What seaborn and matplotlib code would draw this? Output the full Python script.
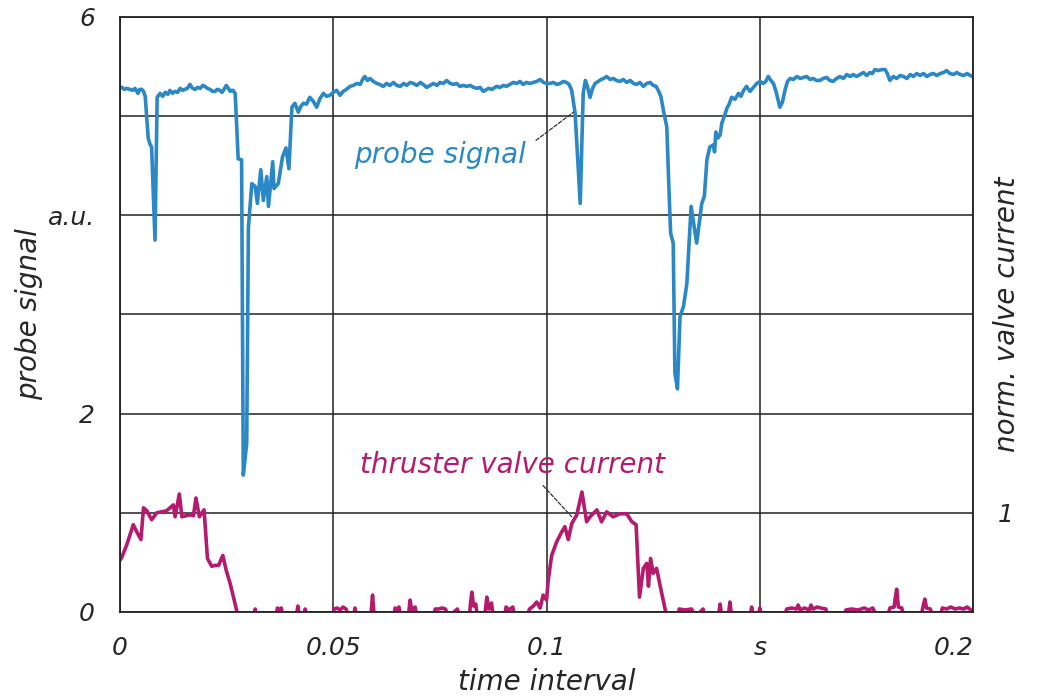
import matplotlib
matplotlib.use("Agg")
import matplotlib.pyplot as plt
import numpy as np
import pandas as pd
import seaborn as sns

# probe signal (time in ms, value in a.u.)
probe_ms = [0.0, 0.4, 1.0, 1.6, 2.3, 3.0, 3.5, 4.2, 4.6, 5.1, 5.5, 5.9, 6.6, 7.0, 7.4, 8.2, 8.7, 9.4, 10.0, 10.6,
            11.2, 11.7, 12.3, 12.9, 13.5, 14.1, 14.7, 15.2, 15.8, 16.4, 17.0, 17.6, 18.2, 18.8, 19.4, 19.9, 20.5,
            21.1, 21.7, 22.3, 22.8, 23.4, 23.9, 24.4, 24.9, 25.4, 25.8, 26.2, 26.5, 27.0, 27.7, 28.5, 28.9, 29.7,
            30.1, 30.9, 31.7, 32.2, 33.0, 33.6, 34.4, 34.8, 35.8, 36.1, 37.1, 38.1, 38.9, 39.6, 40.3, 41.0, 41.8,
            42.4, 43.0, 43.7, 44.5, 45.3, 46.1, 46.9, 47.7, 48.4, 49.2, 50.0, 50.8, 51.6, 52.3, 53.1, 53.9, 54.7,
            55.5, 56.3, 57.0, 57.4, 58.0, 58.6, 59.4, 60.2, 60.9, 61.7, 62.5, 63.3, 64.1, 64.9, 65.7, 66.5, 67.2,
            68.0, 68.8, 69.6, 70.4, 71.1, 71.9, 72.7, 73.5, 74.3, 75.0, 75.8, 76.6, 77.4, 78.2, 78.9, 79.7, 80.5,
            81.3, 82.1, 82.9, 83.7, 84.4, 85.2, 85.6, 86.4, 87.2, 88.3, 89.1, 89.9, 90.6, 91.4, 92.2, 93.0, 93.8,
            94.5, 95.3, 96.1, 96.9, 97.7, 98.5, 99.3, 100.0, 100.8, 101.6, 102.4, 103.2, 103.9, 104.7, 105.3,
            105.9, 106.7, 107.9, 108.6, 109.1, 109.6, 110.2, 110.8, 111.4, 112.1, 112.8, 113.4, 114.1, 114.9,
            115.7, 116.4, 117.2, 118.0, 118.8, 119.6, 120.4, 121.1, 121.9, 122.7, 123.5, 124.3, 125.0, 125.7,
            126.2, 126.8, 127.4, 128.2, 128.8, 129.1, 129.7, 130.1, 130.7, 131.3, 132.1, 132.9, 133.9, 134.4,
            135.2, 136.4, 137.0, 137.6, 138.3, 139.1, 139.4, 139.7, 140.2, 140.7, 141.1, 141.7, 142.3, 142.8,
            143.4, 144.2, 145.0, 145.6, 146.2, 146.9, 147.7, 148.5, 149.3, 150.1, 150.8, 151.4, 152.0, 152.6,
            153.2, 153.8, 154.7, 155.3, 155.9, 156.5, 157.1, 157.9, 158.7, 159.5, 160.2, 161.0, 161.8, 162.5,
            163.3, 164.1, 164.9, 165.7, 166.4, 167.2, 168.0, 168.8, 169.6, 170.4, 171.2, 171.9, 172.7, 173.5,
            174.3, 175.1, 175.8, 176.4, 177.0, 177.8, 178.6, 179.4, 179.9, 180.5, 181.3, 182.1, 182.9, 183.7,
            184.5, 185.3, 186.0, 186.8, 187.6, 188.4, 189.2, 189.9, 190.7, 191.5, 192.3, 193.1, 193.8, 194.6,
            195.4, 196.2, 197.0, 197.8, 198.6, 199.3, 200.0]
probe_val = [5.29, 5.29, 5.27, 5.28, 5.27, 5.26, 5.28, 5.23, 5.27, 5.27, 5.25, 5.20, 4.78, 4.72, 4.69, 3.75, 5.19,
             5.23, 5.20, 5.24, 5.22, 5.26, 5.23, 5.25, 5.24, 5.28, 5.26, 5.27, 5.28, 5.32, 5.28, 5.27, 5.29, 5.28,
             5.31, 5.30, 5.28, 5.27, 5.25, 5.25, 5.27, 5.26, 5.24, 5.27, 5.31, 5.28, 5.25, 5.26, 5.26, 5.23, 4.57,
             4.56, 1.38, 1.70, 3.88, 4.32, 4.29, 4.12, 4.46, 4.15, 4.39, 4.09, 4.54, 4.27, 4.32, 4.59, 4.68, 4.47,
             5.09, 5.13, 5.04, 5.10, 5.13, 5.12, 5.19, 5.15, 5.09, 5.18, 5.23, 5.20, 5.21, 5.24, 5.26, 5.21, 5.25,
             5.27, 5.30, 5.31, 5.33, 5.32, 5.38, 5.40, 5.36, 5.38, 5.35, 5.33, 5.32, 5.30, 5.33, 5.31, 5.34, 5.31,
             5.30, 5.33, 5.31, 5.34, 5.33, 5.31, 5.34, 5.32, 5.29, 5.31, 5.33, 5.31, 5.34, 5.33, 5.36, 5.33, 5.32,
             5.33, 5.30, 5.31, 5.30, 5.31, 5.29, 5.28, 5.29, 5.25, 5.26, 5.28, 5.27, 5.30, 5.29, 5.31, 5.30, 5.32,
             5.34, 5.33, 5.35, 5.32, 5.34, 5.33, 5.34, 5.35, 5.37, 5.34, 5.33, 5.33, 5.34, 5.32, 5.33, 5.35, 5.34,
             5.32, 5.26, 5.03, 4.12, 5.23, 5.36, 5.30, 5.19, 5.28, 5.33, 5.35, 5.37, 5.38, 5.40, 5.37, 5.38, 5.36,
             5.35, 5.37, 5.34, 5.36, 5.33, 5.32, 5.34, 5.30, 5.33, 5.34, 5.31, 5.30, 5.26, 5.20, 5.06, 4.89, 4.15,
             3.82, 3.72, 2.41, 2.25, 2.98, 3.08, 3.31, 4.09, 3.95, 3.72, 4.12, 4.19, 4.56, 4.69, 4.71, 4.64, 4.84,
             4.78, 4.81, 4.93, 5.00, 5.08, 5.12, 5.19, 5.17, 5.23, 5.20, 5.26, 5.30, 5.25, 5.29, 5.33, 5.35, 5.33,
             5.35, 5.40, 5.36, 5.33, 5.25, 5.09, 5.14, 5.26, 5.35, 5.38, 5.37, 5.40, 5.38, 5.39, 5.40, 5.37, 5.38,
             5.36, 5.36, 5.38, 5.39, 5.36, 5.35, 5.38, 5.40, 5.38, 5.42, 5.40, 5.42, 5.40, 5.42, 5.44, 5.41, 5.44,
             5.43, 5.47, 5.46, 5.47, 5.47, 5.43, 5.36, 5.40, 5.38, 5.41, 5.40, 5.38, 5.42, 5.40, 5.43, 5.41, 5.43,
             5.40, 5.42, 5.43, 5.41, 5.43, 5.44, 5.46, 5.43, 5.42, 5.44, 5.42, 5.41, 5.43, 5.41, 5.40]

# thruster valve current, normalised (time in ms)
valve_ms = [0.0, 0.4, 1.6, 3.1, 3.9, 4.9, 5.5, 6.3, 7.4, 8.6, 10.9, 12.5, 12.9, 13.9, 14.5, 16.4, 17.2, 17.8,
            18.6, 19.7, 20.5, 21.5, 22.3, 23.1, 24.1, 24.9, 25.8, 26.6, 27.7, 29.5, 31.4, 31.7, 32.0, 36.5, 36.9,
            37.3, 37.8, 38.2, 41.3, 41.7, 42.1, 43.1, 43.4, 43.8, 49.8, 50.2, 50.9, 51.6, 52.3, 53.0, 53.6, 54.7,
            55.1, 55.5, 58.8, 59.2, 59.6, 64.2, 64.5, 64.9, 65.4, 65.8, 67.6, 68.0, 68.4, 69.2, 69.6, 73.5, 73.9,
            74.7, 75.5, 76.3, 77.0, 79.1, 79.5, 81.9, 82.2, 82.5, 82.9, 83.4, 83.8, 85.5, 86.0, 86.5, 87.1, 87.5,
            90.2, 90.5, 91.2, 92.1, 92.5, 95.5, 96.0, 96.9, 97.7, 98.5, 99.2, 100.0, 100.4, 101.2, 102.4, 103.6,
            104.3, 105.1, 105.9, 107.1, 108.3, 109.4, 110.2, 111.8, 112.9, 114.1, 115.6, 117.2, 118.8, 120.0,
            121.0, 121.8, 122.7, 123.5, 123.9, 124.4, 125.0, 125.8, 127.0, 128.2, 130.8, 131.1, 132.5, 134.0,
            135.0, 136.7, 137.2, 140.3, 140.7, 141.1, 142.6, 143.0, 143.4, 147.7, 148.1, 148.5, 149.7, 150.0,
            150.5, 155.8, 156.3, 157.5, 158.6, 159.0, 159.5, 160.5, 161.6, 162.0, 162.5, 163.5, 164.3, 165.5,
            165.9, 169.8, 170.2, 171.5, 173.0, 174.5, 175.5, 176.5, 177.5, 180.0, 180.5, 181.5, 181.8, 182.1,
            182.5, 183.3, 183.7, 187.8, 188.3, 188.7, 189.1, 190.0, 190.5, 192.3, 192.8, 193.8, 194.8, 195.8,
            196.8, 197.8, 198.6, 199.5, 200.0]
valve_val = [0.52, 0.55, 0.68, 0.88, 0.81, 0.73, 1.05, 1.02, 0.93, 1.00, 1.02, 1.08, 0.96, 1.19, 0.96, 0.98,
             0.97, 1.15, 0.96, 1.03, 0.54, 0.46, 0.47, 0.47, 0.57, 0.42, 0.29, 0.15, -0.05, -0.05, -0.05, 0.03,
             -0.05, -0.05, 0.04, 0.02, 0.04, -0.05, -0.05, 0.06, -0.05, -0.05, 0.03, -0.05, -0.05, 0.03, 0.04,
             0.02, 0.05, 0.03, -0.05, -0.05, 0.04, -0.05, -0.05, 0.17, -0.05, -0.05, 0.04, 0.02, 0.05, -0.05,
             -0.05, 0.12, 0.02, 0.05, -0.05, -0.05, 0.03, 0.03, 0.04, 0.03, -0.05, 0.03, -0.05, -0.05, 0.10,
             0.20, 0.06, 0.08, -0.05, -0.05, 0.15, 0.03, 0.09, -0.05, -0.05, 0.05, 0.02, 0.05, -0.05, -0.05,
             0.03, 0.06, 0.10, 0.04, 0.17, 0.12, 0.32, 0.57, 0.71, 0.81, 0.86, 0.73, 0.89, 0.98, 1.21, 0.91,
             0.96, 1.03, 0.91, 1.01, 0.96, 0.99, 0.99, 0.91, 0.88, 0.15, 0.44, 0.49, 0.26, 0.54, 0.39, 0.44,
             0.19, -0.05, -0.05, 0.03, 0.02, 0.03, -0.05, 0.03, -0.05, -0.05, 0.08, -0.05, -0.05, 0.10, -0.05,
             -0.05, 0.05, -0.05, -0.05, 0.04, -0.05, -0.05, 0.03, 0.04, 0.03, 0.07, 0.02, 0.04, 0.02, 0.07,
             0.03, 0.05, 0.04, 0.03, -0.05, -0.05, 0.02, 0.03, 0.02, 0.04, 0.02, 0.04, -0.05, -0.05, 0.04,
             0.05, 0.15, 0.23, 0.05, 0.04, -0.05, -0.05, 0.06, 0.13, 0.04, 0.03, -0.05, -0.05, 0.04, 0.03,
             0.05, 0.03, 0.04, 0.03, 0.05, 0.02, 0.0]

x_ticks = [0, 0.05, 0.1, 0.15, 0.2]
x_labels = ["0", "0.05", "0.1", "s", "0.2"]
y_ticks = [0, 2, 4, 6]
y_labels = ["0", "2", "a.u.", "6"]

blue = "#2b88c6"
magenta = "#b51a6e"
grid_col = "#222222"
fs = 18
fs_lab = 20

sns.set_style("white")
plt.rcParams["font.family"] = ["DejaVu Sans"]
plt.rcParams["font.style"] = "italic"

probe = pd.DataFrame({"t": np.array(probe_ms) / 1000, "v": probe_val})
valve = pd.DataFrame({"t": np.array(valve_ms) / 1000, "v": valve_val})

fig = plt.figure(figsize=(10.42, 6.99), dpi=100)
ax = fig.add_axes([0.1152, 0.1245, 0.8186, 0.8512])

sns.lineplot(data=probe, x="t", y="v", ax=ax, color=blue, linewidth=2.6, estimator=None)
sns.lineplot(data=valve, x="t", y="v", ax=ax, color=magenta, linewidth=2.6, estimator=None)

ax.set_xlim(0, 0.2)
ax.set_ylim(0, 6)
ax.set_xticks(x_ticks)
ax.set_xticklabels(x_labels)
ax.set_yticks(y_ticks)
ax.set_yticklabels(y_labels)
ax.set_yticks([1, 3, 5], minor=True)
ax.grid(True, which="both", color=grid_col, linewidth=1.1)
ax.set_axisbelow(True)
ax.tick_params(axis="both", which="both", length=0, labelsize=fs, pad=18)
ax.tick_params(axis="x", pad=17)
ax.get_xticklabels()[-1].set_horizontalalignment("right")
for sp in ax.spines.values():
    sp.set_color(grid_col)
    sp.set_linewidth(1.3)

ax.set_xlabel("time interval", fontsize=fs_lab, labelpad=6)
ax.set_ylabel("probe signal", fontsize=fs_lab)
ax.yaxis.set_label_coords(-0.09, 0.5)

ax2 = ax.twinx()
ax2.set_ylim(0, 6)
ax2.set_yticks([1])
ax2.set_yticklabels(["1"])
ax2.tick_params(axis="y", length=0, labelsize=fs, pad=18)
ax2.set_ylabel("norm. valve current", fontsize=fs_lab)
ax2.yaxis.set_label_coords(1.024, 0.5)
for sp in ax2.spines.values():
    sp.set_visible(False)

ax.annotate("probe signal", xy=(0.1063, 5.04), xytext=(0.0952, 4.61), color=blue, fontsize=fs_lab,
            ha="right", va="center",
            arrowprops=dict(arrowstyle="-", color="#333333", linewidth=0.9, linestyle=(0, (3, 1.5)),
                            relpos=(1.0, 0.75), shrinkA=6, shrinkB=0))
ax.annotate("thruster valve current", xy=(0.1059, 0.96), xytext=(0.0921, 1.48), color=magenta,
            fontsize=fs_lab, ha="center", va="center",
            arrowprops=dict(arrowstyle="-", color="#333333", linewidth=0.9, linestyle=(0, (3, 1.5)),
                            relpos=(0.58, 0.0), shrinkA=3, shrinkB=0))

fig.savefig("out.png", dpi=100)
